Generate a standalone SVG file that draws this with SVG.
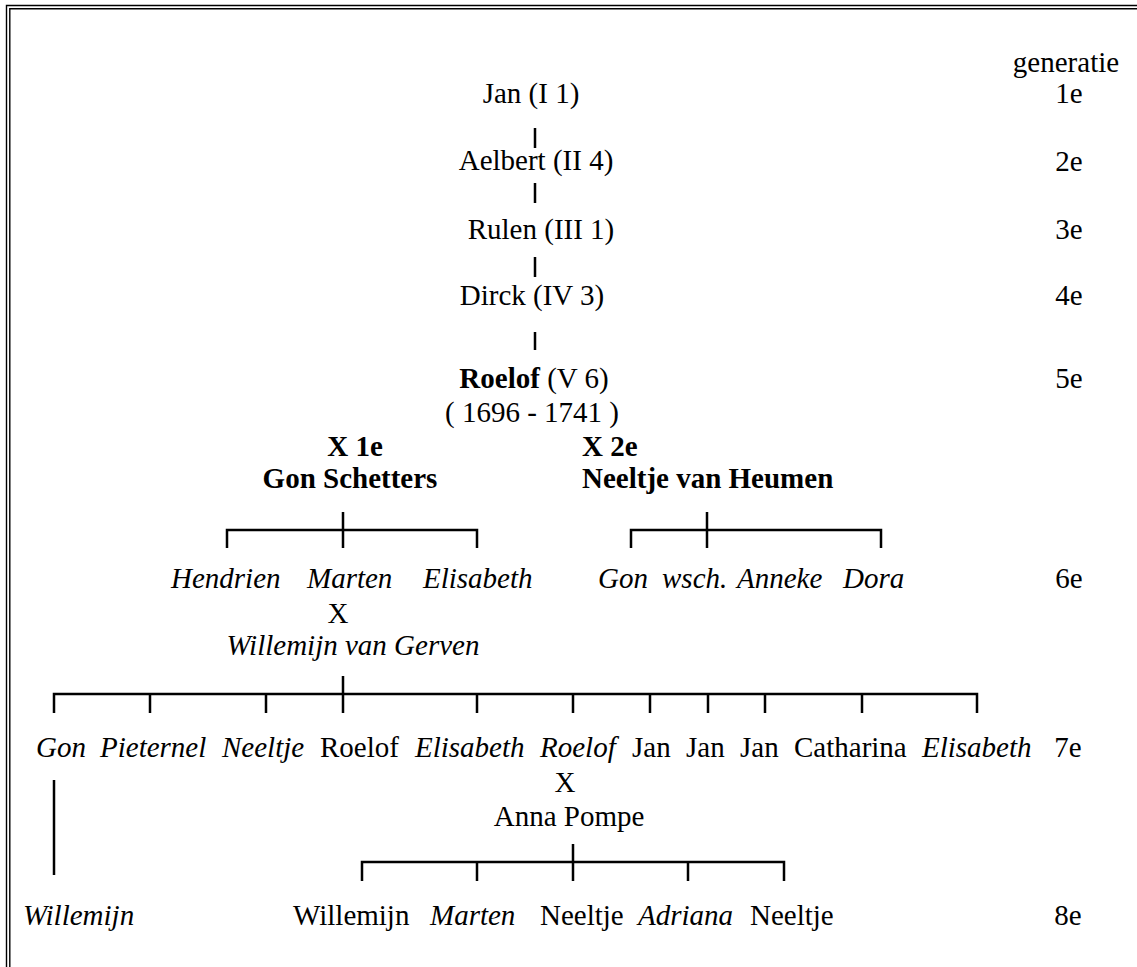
<svg xmlns="http://www.w3.org/2000/svg" width="1137" height="967" viewBox="0 0 1137 967" font-family="'Liberation Serif', 'Times New Roman', 'DejaVu Serif', serif">
<style>
text{font-family:'Liberation Serif','Times New Roman','DejaVu Serif',serif;font-size:29px;fill:#000}
.c{text-anchor:middle}
.b{font-weight:bold}
.i{font-style:italic}
.ln{stroke:#000;stroke-width:2.5;fill:none}
.bd{stroke:#000;stroke-width:1.4;fill:none}
</style>
<rect width="1137" height="967" fill="#fff"/>
<g id="border">
<path class="bd" d="M6.5,980 V5.5 H1150"/>
<path class="bd" d="M9.8,980 V8.8 H1150"/>
</g>
<g id="generations">
<text class="c" x="1066" y="72">generatie</text>
<text class="c" x="1069" y="103">1e</text>
<text class="c" x="1069" y="171">2e</text>
<text class="c" x="1069" y="239">3e</text>
<text class="c" x="1069" y="305">4e</text>
<text class="c" x="1069" y="388">5e</text>
<text class="c" x="1069" y="588">6e</text>
<text class="c" x="1068" y="757">7e</text>
<text class="c" x="1068" y="925">8e</text>
</g>
<g id="connectors">
<path class="ln" d="M535,128V148 M535,183V203 M535,257V277 M535,332V350"/>
<path class="ln" d="M227,548V530H477V548 M343,512V548"/>
<path class="ln" d="M631,548V530H881V548 M707,512V548"/>
<path class="ln" d="M54,713V694H977V713 M343,676V713 M150,694V713 M266,694V713 M477,694V713 M573,694V713 M650,694V713 M708,694V713 M765,694V713 M862,694V713"/>
<path class="ln" d="M54,780V875"/>
<path class="ln" d="M362,881V862H784V881 M573,844V881 M477,862V881 M688,862V881"/>
</g>
<g id="gen1"><text class="c" x="531" y="103">Jan (I 1)</text></g>
<g id="gen2"><text class="c" x="536" y="170">Aelbert (II 4)</text></g>
<g id="gen3"><text class="c" x="541" y="239">Rulen (III 1)</text></g>
<g id="gen4"><text class="c" x="532" y="305">Dirck (IV 3)</text></g>
<g id="gen5">
<text class="c" x="534" y="388"><tspan class="b">Roelof</tspan> (V 6)</text>
<text class="c" x="532" y="422">( 1696 - 1741 )</text>
</g>
<g id="marriage1">
<text class="c b" x="355" y="456">X 1e</text>
<text class="c b" x="350" y="488">Gon Schetters</text>
</g>
<g id="marriage2">
<text class="b" x="582" y="456">X 2e</text>
<text class="b" x="582" y="488">Neeltje van Heumen</text>
</g>
<g id="gen6">
<text class="i" x="171" y="588">Hendrien</text>
<text class="i" x="307" y="588">Marten</text>
<text class="i" x="423" y="588">Elisabeth</text>
<text class="i" x="598" y="588">Gon</text>
<text class="i" x="662" y="588">wsch.</text>
<text class="i" x="737" y="588">Anneke</text>
<text class="i" x="843" y="588">Dora</text>
<text class="c" x="338" y="623">X</text>
<text class="c i" x="353" y="655">Willemijn van Gerven</text>
</g>
<g id="gen7">
<text class="i" x="36" y="757">Gon</text>
<text class="i" x="100" y="757">Pieternel</text>
<text class="i" x="222" y="757">Neeltje</text>
<text x="320" y="757">Roelof</text>
<text class="i" x="415" y="757">Elisabeth</text>
<text class="i" x="540" y="757">Roelof</text>
<text x="632" y="757">Jan</text>
<text x="686" y="757">Jan</text>
<text x="740" y="757">Jan</text>
<text x="794" y="757">Catharina</text>
<text class="i" x="922" y="757">Elisabeth</text>
<text class="c" x="565" y="792">X</text>
<text class="c" x="569" y="826">Anna Pompe</text>
</g>
<g id="gen8">
<text class="i" x="23" y="925">Willemijn</text>
<text x="293" y="925">Willemijn</text>
<text class="i" x="430" y="925">Marten</text>
<text x="540" y="925">Neeltje</text>
<text class="i" x="638" y="925">Adriana</text>
<text x="750" y="925">Neeltje</text>
</g>
</svg>
